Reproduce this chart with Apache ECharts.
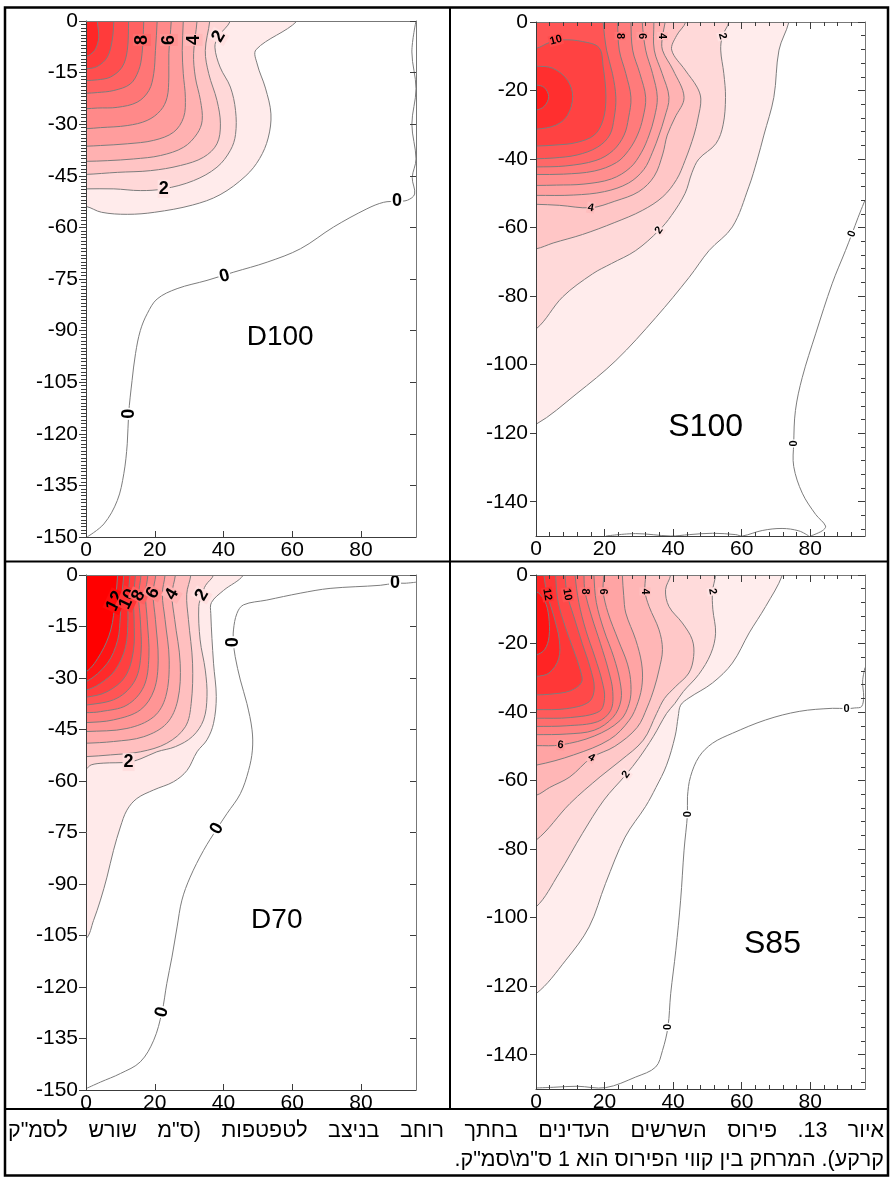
<!DOCTYPE html>
<html lang="he">
<head>
<meta charset="utf-8">
<title>Fine root distribution contours</title>
<script src="https://cdn.jsdelivr.net/npm/echarts@6.0.0/dist/echarts.min.js"></script>
<style>
html,body{margin:0;padding:0;background:#ffffff;}
#chart{width:893px;height:1180px;}
</style>
</head>
<body>
<div id="chart"></div>
<script>
// ================= DATA =================
// x: distance from dripper line (0..96), y: depth (0..-150)
const X_TICKS = [0, 20, 40, 60, 80];
const X_MINOR_TICKS = [0,4,8,12,16,20,24,28,32,36,40,44,48,52,56,60,64,68,72,76,80,84,88,92];
const Y_TICKS_S = [0,-20,-40,-60,-80,-100,-120,-140];
const Y_MINOR_TICKS_S = [0,-4,-8,-12,-16,-20,-24,-28,-32,-36,-40,-44,-48,-52,-56,-60,-64,-68,-72,-76,-80,-84,-88,-92,-96,-100,-104,-108,-112,-116,-120,-124,-128,-132,-136,-140,-144,-148];

const PANEL_NAMES = ['D100', 'S100', 'D70', 'S85'];

// ---- D100 ----
const D100_LEVELS = [1,2,3,4,5,6,7,8,9,10,11];
const D100_CONTOURS = [
  [[61.4,0],[49.5,-8.3],[49.8,-12.5],[52.2,-19.5],[53.8,-27],[53,-34],[50.5,-40],[46.5,-45],[39,-50.5],[31,-53.5],[20,-55.6],[12,-56.2],[4.5,-55.6],[0,-53.9]],
  [[42,0],[38.5,-4.5],[37.5,-7.6],[39,-13.4],[42,-19.2],[43.5,-26],[43.5,-33],[42,-37.6],[38.1,-42.5],[31.3,-46.4],[22.6,-48.8],[15.8,-49.3],[8.1,-48.8],[0,-48.8]],
  [[36,0],[34.7,-8.6],[35.7,-15.3],[38.1,-23.1],[39.1,-29.9],[38.1,-35.7],[34.2,-39.6],[27.5,-42],[18.8,-43.5],[9.1,-44],[0,-44.6]],
  [[32.3,0],[31.3,-9.5],[31.8,-16.3],[33.3,-23.1],[33.8,-28.9],[32.3,-32.8],[28.4,-36.7],[21.7,-39.1],[13.9,-40.1],[6.2,-40.6],[0,-40.8]],
  [[28.3,0],[28,-8.6],[28.3,-15.3],[28.9,-22.2],[28.4,-28],[25.5,-32.3],[19.7,-34.7],[12,-35.7],[4.2,-36.2],[0,-36.4]],
  [[24.8,0],[24.1,-9.5],[24.1,-16.3],[23.6,-22.2],[21.7,-26],[17.8,-28.9],[12,-30.4],[4.2,-31],[0,-31.3]],
  [[20.7,0],[20.2,-8.6],[19.7,-15.3],[18.3,-20.2],[14.9,-23.6],[9.1,-25.1],[3.3,-25.3],[0,-25.5]],
  [[16.8,0],[16.3,-9.5],[15.3,-14.4],[12.9,-18.3],[8.1,-20.2],[3.3,-20.8],[0,-21]],
  [[12.4,0],[12,-8.6],[10.5,-13.4],[7.1,-16.3],[3.3,-17.1],[0,-17.3]],
  [[8.1,0],[7.6,-5.7],[6.2,-10.5],[3.3,-13.2],[0,-13.9]],
  [[3.3,0],[3.7,-4.7],[2.8,-8.1],[1.3,-9.7],[0,-10.3]]
];
const D100_ZERO = [
  [[96,0],[94.8,-9],[96,-19.7],[94.8,-30],[96,-40.1],[94.9,-45.5],[95.6,-50.3],[93.5,-52.1],[90.5,-52.4],[86.6,-52.7],[81.7,-54.6],[72,-59.9],[62.4,-66.2],[52.7,-70.1],[43,-73],[35.2,-75.4],[26.5,-77.8],[20.7,-80.8],[17.8,-85.1],[15.8,-90],[14.4,-96.7],[13.4,-104.5],[12.4,-114.2],[12,-122.9],[11,-131.6],[9.1,-139.4],[5.2,-146.2],[0.3,-150]]
];
const D100_LABELS = [[16.3,-5.5,'8'],[24.1,-5.5,'6'],[31.3,-5.5,'4'],[38.6,-4.5,'2'],[22.6,-48.8,'2'],[90.5,-52.4,'0'],[40.3,-74.2,'0'],[12.4,-114.2,'0']];
const D100_TITLE = [56.5,-91.9];

// ---- S100 ----
const S100_LEVELS = [1,2,3,4,5,6,7,8,9,10,11,12];
const S100_CONTOURS = [
  [[73.8,0],[70.9,-8.2],[69.4,-22],[66.5,-33],[64.5,-40.4],[62.1,-48.1],[57.3,-59.8],[50.5,-66.7],[44.7,-74.5],[35,-86.2],[23.3,-98.8],[11.7,-108.6],[0,-117.4]],
  [[56.3,0],[54.4,-4.1],[53.9,-8.2],[54.8,-15],[55.3,-22],[54.6,-30],[52.5,-35.5],[47.5,-40],[45.5,-44],[43.5,-50],[39.5,-56.5],[35.9,-60.8],[29.1,-66.7],[22,-70.5],[16.5,-73.5],[7.8,-80.2],[0,-89.6]],
  [[43.7,0],[41,-4],[39.6,-8.2],[43.5,-14],[47,-19],[48.1,-22.5],[47.3,-28],[46.1,-33],[43.5,-40.4],[41,-46],[37,-51],[31,-55],[23,-58.5],[13.6,-62],[5,-64.5],[0,-66.2]],
  [[37.7,0],[36.9,-4.1],[36.9,-8.2],[40,-14],[43.2,-22],[40.5,-28],[38.3,-33],[37,-38.5],[34.5,-45],[30,-49.5],[23,-52.3],[16,-54.2],[6.8,-53.5],[0,-53.2]],
  [[34.4,0],[34.5,-8.2],[36.8,-15],[38.8,-22],[37.5,-28],[35.9,-33],[34,-38],[31.5,-43],[27,-47],[20,-49.5],[11,-50.5],[0,-50.6]],
  [[31,0],[32,-8.2],[34,-15],[35.4,-22],[34.5,-28],[33,-33],[30.8,-38],[27.5,-42.5],[22,-45.8],[14,-47.3],[6,-47.6],[0,-47.7]],
  [[27.7,0],[28.2,-8.2],[30.3,-15],[32,-22],[31.2,-28],[29.6,-33],[27,-37.5],[23.5,-41],[17,-43.5],[8,-44.4],[0,-44.5]],
  [[23.8,0],[24.3,-8.2],[26.2,-15],[27.7,-22],[27,-28],[25.7,-33],[22.5,-37.5],[17.5,-40.4],[8.7,-42],[0,-42.3]],
  [[19.6,0],[20.6,-8.2],[22.3,-15],[23.3,-22],[22.8,-28],[21.5,-33],[18,-36.5],[12,-38.8],[5,-39.7],[0,-39.9]],
  [[0,-7.7],[3.9,-6],[7.8,-5.2],[13.6,-5.7],[18.4,-7.5],[19.6,-13],[20.4,-21.8],[19.6,-28.5],[17,-33],[11.7,-35.2],[5.8,-35.9],[0,-36.2]],
  [[0,-12.9],[4.9,-13.5],[9.2,-17],[10.7,-21.8],[9.2,-27.2],[5.8,-30.1],[0,-31.3]],
  [[0,-18.4],[2.4,-19.1],[3.7,-21.8],[2.4,-24.6],[0,-25.7]]
];
const S100_ZERO = [
  [[96,-52],[94,-57],[92.2,-61.8],[90.3,-66.7],[86.4,-76.4],[81.6,-91],[77.7,-103.7],[75.7,-113.4],[75.2,-123],[75.2,-129.7],[77.7,-137.5],[81.6,-143.7],[84.5,-147.1],[83.5,-148.5],[80.1,-150]],
  [[20.4,-150],[29.1,-149.3],[39.3,-150],[44.7,-149.6],[51.5,-149.2],[58.3,-149.6],[60.2,-150],[66,-148.4],[71.8,-147.8],[76.7,-148.5],[79.6,-150]]
];
const S100_LABELS = [[5.8,-5.3,'10'],[24.5,-4.1,'8'],[30.9,-4.1,'6'],[36.9,-4.1,'4'],[54.4,-4.1,'2'],[16,-54.2,'4'],[35.9,-60.8,'2'],[92.2,-61.8,'0'],[75.2,-123,'0']];
const S100_TITLE = [49.5,-118.3];

// ---- D70 ----
const D70_LEVELS = [1,2,3,4,5,6,7,8,9,10,11,12];
const D70_CONTOURS = [
  [[45.8,0],[40,-4.5],[36.5,-8],[36.3,-11.2],[37.1,-25.7],[37.9,-35.4],[37.1,-43.2],[35.2,-48],[32.3,-51.5],[29.4,-56.9],[25.5,-60.2],[19.7,-62.6],[14.8,-65.1],[11.9,-68.5],[10,-73.4],[8,-80.2],[6.1,-88],[4.2,-94.7],[2.2,-100.6],[0,-105.9]],
  [[37.1,0],[34.8,-3],[33.7,-5.8],[32.8,-9.2],[33.2,-18.9],[34.7,-27.7],[35.2,-35.4],[34.2,-42.2],[31,-47],[26,-50],[20.6,-51.5],[16,-53.5],[12.4,-54.5],[5,-54.8],[1.5,-55.3],[0,-56.4]],
  [[30.5,0],[29.3,-5.6],[29.8,-13],[31,-25.7],[30.6,-37.4],[28.9,-44.2],[23.5,-49],[15.8,-51.5],[7.1,-52.4],[0,-52.9]],
  [[26,0],[25,-5.6],[25.8,-13],[27.4,-25.7],[26.7,-36.4],[23.5,-43.2],[16.8,-47.1],[8,-48.5],[0,-49]],
  [[23,0],[22.2,-5.5],[23,-13],[24.2,-24.8],[23.2,-35.4],[19.7,-41.3],[11.9,-44.7],[0,-45.6]],
  [[20.3,0],[19.5,-5.2],[20.2,-13],[21,-24.8],[19.8,-33.5],[15.8,-39.3],[8,-42.2],[0,-43]],
  [[18,0],[17.3,-5.5],[17.8,-13],[18.3,-23.8],[16.8,-32.5],[11.9,-37.9],[4.2,-39.8],[0,-40.1]],
  [[16,0],[15.3,-6],[15.8,-13],[16,-22.8],[14.3,-30.6],[9,-35.9],[0,-37.9]],
  [[14.4,0],[13.8,-6.5],[14,-13],[13.8,-22],[11.4,-29.6],[6.1,-34],[0,-35.6]],
  [[12.8,0],[12.2,-7],[12.2,-13],[11.5,-21],[8.5,-27.7],[4,-31.7],[0,-33.5]],
  [[11,0],[10.3,-7],[10,-12],[9.2,-19],[6.2,-25.7],[0,-31.1]],
  [[9.2,0],[8.5,-7.6],[7.2,-16],[4.3,-22.8],[0,-28.2]]
];
const D70_ZERO = [
  [[96,-2.1],[92.8,-2.4],[89.9,-2.4],[85.6,-3],[71,-3.9],[62.3,-5.3],[52.6,-7.3],[45.8,-8.7],[43.9,-11.2],[42.9,-16],[42.9,-19.6],[43.4,-23.8],[44.9,-30.6],[46.8,-37.4],[48.3,-45.1],[48.4,-51],[47.3,-56.9],[44.9,-63.7],[41,-69.5],[38.1,-73.9],[34.2,-80.2],[30.3,-88],[27.9,-94.7],[26.5,-102.5],[25,-111.3],[23.5,-119],[22.1,-127.3],[19.7,-135.5],[15.8,-141.8],[10,-145.2],[4.2,-147.7],[0,-149.6]]
];
const D70_LABELS = [[8.5,-7.6,'12'],[12.2,-7,'10'],[15.3,-6,'8'],[19.5,-5.2,'6'],[25,-5.6,'4'],[33.7,-5.8,'2'],[12.4,-54.5,'2'],[89.9,-2.4,'0'],[42.9,-19.6,'0'],[38.1,-73.9,'0'],[22.1,-127.3,'0']];
const D70_TITLE = [55.5,-100.5];

// ---- S85 ----
const S85_LEVELS = [1,2,3,4,5,6,7,8,9,10,11,12,13];
const S85_CONTOURS = [
  [[71.9,0],[67,-9.2],[62.2,-16.9],[57.3,-25.7],[51.5,-31.5],[44.6,-35.9],[42.2,-38],[41.5,-41.3],[40.6,-47],[38.1,-55.5],[35,-62],[32,-67.5],[26,-76.5],[20.3,-90],[15.5,-102.7],[8.7,-112.4],[0,-122.2]],
  [[52.4,0],[51.5,-4.8],[51.6,-10],[52.4,-17],[51,-23],[47.5,-29],[43,-34],[40.5,-37.5],[38.1,-40.4],[34.2,-47.2],[30,-53.5],[26.3,-58.2],[19.8,-65.7],[13.5,-75.5],[6.7,-87.1],[0,-96.9]],
  [[39.3,0],[37.8,-4.3],[38.8,-9.2],[42.7,-14],[45.6,-18.9],[46,-23.8],[44.6,-28.6],[40.8,-32.5],[37.5,-36],[35.2,-40.4],[31.3,-48.2],[24.5,-54.3],[18.7,-58.9],[9.9,-66.7],[0,-77.4]],
  [[32,0],[31.8,-4.8],[33,-9.2],[35.9,-16],[36.9,-21.8],[35.9,-27.7],[34.5,-33],[32.5,-38.5],[29.5,-44.5],[23,-50],[16.2,-53.3],[9.9,-58.9],[4,-62],[0,-64.3]],
  [[25.2,0],[25.6,-6],[26.2,-11.1],[29.1,-18.9],[30.8,-25.7],[31,-31.5],[29.8,-37],[27.2,-42.4],[21.5,-48],[11,-52.5],[0,-55.5]],
  [[19.8,0],[19.6,-4.8],[21,-11],[24,-19],[26.7,-26],[27.7,-32],[27.2,-37.5],[24.5,-42.5],[17,-47],[7.2,-49.6],[0,-49.8]],
  [[16.9,0],[17.6,-8],[19.8,-16],[22.7,-24],[24.5,-31],[24.8,-36.5],[22.5,-41.5],[17,-45.3],[9,-46.4],[0,-46.6]],
  [[14,0],[14.3,-4.8],[16.2,-12],[18.8,-20],[21.2,-28],[22.4,-34],[21.8,-39.5],[18,-42.8],[9,-44],[0,-44.2]],
  [[11.4,0],[12.5,-8],[14.5,-16],[17.2,-24],[19.3,-31],[20,-36],[18.5,-39.8],[10,-41.6],[0,-41.8]],
  [[8.5,0],[9.1,-5.7],[11,-12],[13.5,-20],[15.8,-27],[17,-33],[15.5,-37],[9,-39],[0,-39.3]],
  [[5.7,0],[6.5,-8],[8.5,-15],[11,-22],[13,-28],[13.3,-31.3],[10,-33.8],[4,-34.8],[0,-35]],
  [[2.3,0],[3.3,-5.7],[5.2,-12],[6.8,-19],[6.6,-24.5],[3.8,-28.6],[0,-29.6]],
  [[0,-4.8],[2.5,-7.5],[3.7,-12],[3.8,-18],[2.5,-21.8],[0,-23.3]]
];
const S85_ZERO = [
  [[96,-27],[95.3,-31],[95.6,-35.5],[95,-38.4],[93,-38.8],[90.6,-39],[86.5,-38.9],[76.8,-39.8],[67,-42.3],[57.3,-46.2],[51.5,-49.1],[47.6,-53],[45.1,-58.8],[44.2,-64.7],[44.2,-69.8],[43.2,-80.3],[42.2,-94.9],[40.8,-109.5],[39.3,-122.2],[38.5,-131.9],[36.9,-138.8],[34.9,-143.6],[29.1,-146.5],[20.3,-149.6],[12,-149.2],[5,-149.5],[0,-149.7]]
];
const S85_LABELS = [[3.3,-5.7,'12'],[9.1,-5.7,'10'],[14.3,-4.8,'8'],[19.6,-4.8,'6'],[31.8,-4.8,'4'],[51.5,-4.8,'2'],[7.2,-49.6,'6'],[16.2,-53.3,'4'],[26.3,-58.2,'2'],[90.6,-39,'0'],[44.2,-69.8,'0'],[38.5,-131.9,'0']];
const S85_TITLE = [69,-107.6];

const CAPTION_LINES = [
  'איור 13. פירוס השרשים העדינים בחתך רוחב בניצב לטפטפות (ס"מ שורש לסמ"ק',
  'קרקע). המרחק בין קווי הפירוס הוא 1 ס"מ\\סמ"ק.'
];

// ================= STYLE / LAYOUT =================
const FONT = "'Liberation Sans', Arial, Helvetica, sans-serif";
const AXIS_FONT_SIZE = 21;
const CAPTION_SIZE = 21.5;
const LINE_COLOR = '#7d7d7d';
const SMOOTH = 0.35;
const EXT = 4;

// label rotations (degrees, counter-clockwise) – styling only
const D100_LABEL_ROT = [90,90,90,60,0,0,15,90];
const S100_LABEL_ROT = [15,-90,-90,-90,-75,-10,55,70,90];
const D70_LABEL_ROT = [65,65,65,60,60,60,0,0,90,60,75];
const S85_LABEL_ROT = [-80,-80,-90,-90,-90,-80,-5,-30,55,0,90,90];

const PANELS = [
  {name:PANEL_NAMES[0], kind:'D', grid:{left:86,top:21,width:330,height:516}, yMinor:true, maxBand:13,
   levels:D100_LEVELS, contours:D100_CONTOURS, zeros:D100_ZERO, labels:D100_LABELS, rot:D100_LABEL_ROT, labelSize:18, title:D100_TITLE, titleSize:28},
  {name:PANEL_NAMES[1], kind:'S', grid:{left:536,top:22,width:329,height:514}, yMinor:false, maxBand:13.5,
   levels:S100_LEVELS, contours:S100_CONTOURS, zeros:S100_ZERO, labels:S100_LABELS, rot:S100_LABEL_ROT, labelSize:11, title:S100_TITLE, titleSize:32},
  {name:PANEL_NAMES[2], kind:'D', grid:{left:86,top:575,width:330,height:515}, yMinor:false, maxBand:12,
   levels:D70_LEVELS, contours:D70_CONTOURS, zeros:D70_ZERO, labels:D70_LABELS, rot:D70_LABEL_ROT, labelSize:18, title:D70_TITLE, titleSize:28},
  {name:PANEL_NAMES[3], kind:'S', grid:{left:536,top:575,width:329,height:514}, yMinor:false, maxBand:14,
   levels:S85_LEVELS, contours:S85_CONTOURS, zeros:S85_ZERO, labels:S85_LABELS, rot:S85_LABEL_ROT, labelSize:11, title:S85_TITLE, titleSize:32}
];

function bandG(k, maxBand) { return Math.max(0, Math.min(255, Math.round(255 * (1 - k / maxBand)))); }
function bandColor(k, maxBand) { if (k <= 0) return '#ffffff'; const g = bandG(k, maxBand); return 'rgb(255,' + g + ',' + g + ')'; }
function labelBg(k, maxBand) { if (k <= 0) return '#ffffff'; const g = bandG(k - 0.5, maxBand); return 'rgb(255,' + g + ',' + g + ')'; }

function onTop(p) { return Math.abs(p[1]) < 1e-9; }
function onLeft(p) { return Math.abs(p[0]) < 1e-9; }
function extend(p) { if (onTop(p)) return [p[0], EXT]; if (onLeft(p)) return [-EXT, p[1]]; return p; }
function closedRing(pts) {
  const a = pts[0], b = pts[pts.length - 1];
  const ring = [extend(a)].concat(pts, [extend(b)]);
  if (onTop(a) && onLeft(b)) ring.push([-EXT, EXT]);
  return ring;
}

const grids = [], xAxes = [], yAxes = [], series = [];
const darkLine = {color:'#3c3c3c', width:1};
const grayLine = {color:'#777777', width:1};

PANELS.forEach(function (P, pi) {
  const isS = P.kind === 'S';
  grids.push(Object.assign({containLabel:false, outerBoundsMode:'none'}, P.grid));
  const base = {gridIndex:pi, type:'value', min:0, max:96, z:10, splitLine:{show:false}};
  const xb = xAxes.length;
  xAxes.push(Object.assign({}, base, {position:'bottom',
    axisLine:{show:true, onZero:false, lineStyle:darkLine},
    axisTick:{show:true, inside:true, length:isS ? 7 : 6, customValues:X_TICKS, lineStyle:darkLine},
    axisLabel:{show:true, customValues:X_TICKS, fontSize:AXIS_FONT_SIZE, color:'#000', margin:3, fontFamily:FONT}}));
  xAxes.push(Object.assign({}, base, {position:'top',
    axisLine:{show:true, onZero:false, lineStyle:grayLine},
    axisTick:{show:isS, inside:true, length:7, customValues:X_TICKS, lineStyle:darkLine},
    axisLabel:{show:false}}));
  if (isS) {
    ['bottom', 'top'].forEach(function (pos) {
      xAxes.push(Object.assign({}, base, {position:pos,
        axisLine:{show:false, onZero:false},
        axisTick:{show:true, inside:true, length:4, customValues:X_MINOR_TICKS, lineStyle:darkLine},
        axisLabel:{show:false}}));
    });
  }
  const ybase = {gridIndex:pi, type:'value', min:-150, max:0, z:10, splitLine:{show:false}};
  const yl = yAxes.length;
  if (isS) {
    yAxes.push(Object.assign({}, ybase, {position:'left',
      axisLine:{show:true, onZero:false, lineStyle:darkLine},
      axisTick:{show:true, inside:false, length:6, customValues:Y_TICKS_S, lineStyle:darkLine},
      axisLabel:{show:true, customValues:Y_TICKS_S, fontSize:AXIS_FONT_SIZE, color:'#000', margin:8, fontFamily:FONT}}));
    yAxes.push(Object.assign({}, ybase, {position:'right',
      axisLine:{show:true, onZero:false, lineStyle:grayLine},
      axisTick:{show:true, inside:true, length:7, customValues:Y_TICKS_S, lineStyle:darkLine},
      axisLabel:{show:false}}));
    yAxes.push(Object.assign({}, ybase, {position:'right',
      axisLine:{show:false, onZero:false},
      axisTick:{show:true, inside:true, length:4, customValues:Y_MINOR_TICKS_S, lineStyle:darkLine},
      axisLabel:{show:false}}));
  } else {
    yAxes.push(Object.assign({}, ybase, {position:'left', interval:15,
      axisLine:{show:true, onZero:false, lineStyle:darkLine},
      axisTick:{show:true, inside:false, length:7, lineStyle:darkLine},
      minorTick:{show:P.yMinor, splitNumber:15, length:5, lineStyle:darkLine},
      axisLabel:{show:true, fontSize:AXIS_FONT_SIZE, color:'#000', margin:8, fontFamily:FONT}}));
    yAxes.push(Object.assign({}, ybase, {position:'right', interval:15,
      axisLine:{show:true, onZero:false, lineStyle:grayLine},
      axisTick:{show:true, inside:true, length:6, lineStyle:darkLine},
      axisLabel:{show:false}}));
  }

  const common = {type:'custom', coordinateSystem:'cartesian2d', xAxisIndex:xb, yAxisIndex:yl,
    clip:true, silent:true, animation:false};

  // filled contour bands (outer level first)
  series.push(Object.assign({}, common, {name:P.name + ' bands', z:2,
    data:P.contours.map(function (c, i) { return [c[0][0], c[0][1], P.levels[i]]; }),
    renderItem:function (params, api) {
      const i = params.dataIndex;
      const pts = closedRing(P.contours[i]).map(function (p) { return api.coord(p); });
      return {type:'polygon', shape:{points:pts, smooth:SMOOTH},
        style:{fill:bandColor(P.levels[i], P.maxBand), stroke:'none'}};
    }}));
  // contour lines
  series.push(Object.assign({}, common, {name:P.name + ' contour lines', z:3,
    data:P.contours.map(function (c, i) { return [c[0][0], c[0][1], P.levels[i]]; }),
    renderItem:function (params, api) {
      const i = params.dataIndex;
      const pts = closedRing(P.contours[i]).map(function (p) { return api.coord(p); });
      return {type:'polygon', shape:{points:pts, smooth:SMOOTH},
        style:{fill:'none', stroke:LINE_COLOR, lineWidth:1}};
    }}));
  // zero contour
  series.push(Object.assign({}, common, {name:P.name + ' zero contour', z:3,
    data:P.zeros.map(function (c) { return [c[0][0], c[0][1], 0]; }),
    renderItem:function (params, api) {
      const pts = P.zeros[params.dataIndex].map(function (p) { return api.coord(p); });
      return {type:'polyline', shape:{points:pts, smooth:SMOOTH},
        style:{fill:'none', stroke:LINE_COLOR, lineWidth:1}};
    }}));
  // contour labels
  series.push(Object.assign({}, common, {name:P.name + ' contour labels', z:4,
    data:P.labels.map(function (l) { return [l[0], l[1]]; }),
    renderItem:function (params, api) {
      const i = params.dataIndex;
      const pt = api.coord([api.value(0), api.value(1)]);
      const txt = P.labels[i][2];
      return {type:'text', x:pt[0], y:pt[1], rotation:P.rot[i] * Math.PI / 180,
        style:{text:txt, fontSize:P.labelSize, fontWeight:'bold', fontFamily:FONT, fill:'#000',
          align:'center', verticalAlign:'middle',
          backgroundColor:labelBg(Number(txt), P.maxBand), padding:[0, 1, 0, 1]}};
    }}));
  // panel title
  series.push(Object.assign({}, common, {name:P.name + ' title', z:4,
    data:[[P.title[0], P.title[1]]],
    renderItem:function (params, api) {
      const pt = api.coord([api.value(0), api.value(1)]);
      return {type:'text', x:pt[0], y:pt[1],
        style:{text:P.name, fontSize:P.titleSize, fontFamily:FONT, fill:'#000', align:'center', verticalAlign:'middle'}};
    }}));
});

// ---- caption: first line justified (right-to-left), last line right aligned ----
const RLE = '\u202B', PDF = '\u202C';
const measureCtx = document.createElement('canvas').getContext('2d');
measureCtx.font = CAPTION_SIZE + 'px ' + FONT;
const CAP_RIGHT = 884, CAP_LEFT = 8;
const graphic = [
  {type:'rect', z:100, silent:true, shape:{x:5, y:7.5, width:883, height:1168}, style:{fill:'none', stroke:'#000', lineWidth:2.5}},
  {type:'line', z:100, silent:true, shape:{x1:450, y1:7.5, x2:450, y2:1109}, style:{stroke:'#000', lineWidth:2}},
  {type:'line', z:100, silent:true, shape:{x1:5, y1:561.5, x2:888, y2:561.5}, style:{stroke:'#000', lineWidth:2}},
  {type:'line', z:100, silent:true, shape:{x1:5, y1:1109, x2:888, y2:1109}, style:{stroke:'#000', lineWidth:2}}
];
(function () {
  const words = CAPTION_LINES[0].split(' ');
  const widths = words.map(function (w) { return measureCtx.measureText(w).width; });
  const total = widths.reduce(function (a, b) { return a + b; }, 0);
  const gap = (CAP_RIGHT - CAP_LEFT - total) / (words.length - 1);
  let x = CAP_RIGHT;
  words.forEach(function (w, i) {
    graphic.push({type:'text', z:100, silent:true, x:x, y:1131,
      style:{text:RLE + w + PDF, fontSize:CAPTION_SIZE, fontFamily:FONT, fill:'#000', align:'right', verticalAlign:'middle'}});
    x -= widths[i] + gap;
  });
  graphic.push({type:'text', z:100, silent:true, x:CAP_RIGHT, y:1160,
    style:{text:RLE + CAPTION_LINES[1] + PDF, fontSize:CAPTION_SIZE, fontFamily:FONT, fill:'#000', align:'right', verticalAlign:'middle'}});
})();

const chart = echarts.init(document.getElementById('chart'), null, {renderer:'canvas', width:893, height:1180});
chart.setOption({
  backgroundColor:'#ffffff',
  animation:false,
  grid:grids,
  xAxis:xAxes,
  yAxis:yAxes,
  series:series,
  graphic:graphic
});
</script>
</body>
</html>
